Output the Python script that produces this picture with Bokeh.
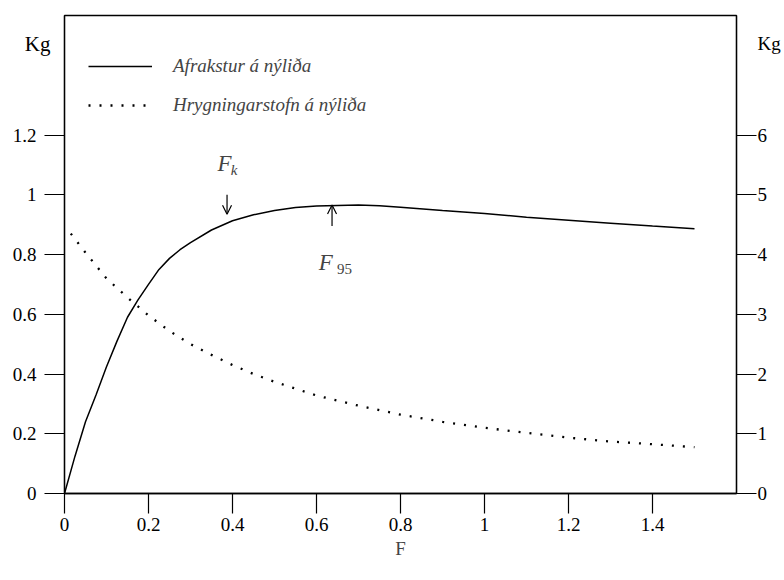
from bokeh.plotting import figure
from bokeh.models import Range1d, LinearAxis, FixedTicker, Label, Arrow, OpenHead, Legend, LegendItem
from bokeh.embed import file_html
from bokeh.resources import INLINE

# --- data ---
f_yield = [0, 0.025, 0.05, 0.075, 0.1, 0.125, 0.15, 0.175, 0.2, 0.225, 0.25, 0.275, 0.3, 0.35,
           0.4, 0.45, 0.5, 0.55, 0.6, 0.65, 0.7, 0.75, 0.8, 0.9, 1.0, 1.1, 1.2, 1.3, 1.4, 1.5]
yield_per_recruit = [0, 0.125, 0.24, 0.33, 0.424, 0.51, 0.59, 0.648, 0.70, 0.75, 0.787, 0.816,
                     0.84, 0.882, 0.913, 0.933, 0.947, 0.957, 0.962, 0.964, 0.966, 0.963,
                     0.958, 0.947, 0.937, 0.925, 0.915, 0.905, 0.895, 0.886]

f_ssb = [0.015, 0.05, 0.1, 0.15, 0.2, 0.25, 0.3, 0.35, 0.4, 0.45, 0.5, 0.6, 0.7, 0.8, 0.9,
         1.0, 1.1, 1.2, 1.3, 1.4, 1.5]
ssb_per_recruit = [4.35, 4.03, 3.6, 3.28, 2.98, 2.72, 2.5, 2.32, 2.15, 2.0, 1.87, 1.64, 1.47,
                   1.32, 1.2, 1.1, 1.015, 0.935, 0.87, 0.825, 0.775]

x_ticks = [0, 0.2, 0.4, 0.6, 0.8, 1.0, 1.2, 1.4]
x_tick_labels = ["0", "0.2", "0.4", "0.6", "0.8", "1", "1.2", "1.4"]
yl_ticks = [0, 0.2, 0.4, 0.6, 0.8, 1.0, 1.2]
yl_tick_labels = ["0", "0.2", "0.4", "0.6", "0.8", "1", "1.2"]
yr_ticks = [0, 1, 2, 3, 4, 5, 6]
yr_tick_labels = ["0", "1", "2", "3", "4", "5", "6"]

legend_labels = ["Afrakstur á nýliða", "Hrygningarstofn á nýliða"]
unit_label = "Kg"
unit_pos_left = 1.506     # height of the unit label, left scale
unit_pos_right = 7.53     # same height, right scale
x_title = "F"
fk = 0.387
f95 = 0.637

SERIF = "'Liberation Serif', serif"

p = figure(frame_width=672, frame_height=478, output_backend="svg", toolbar_location=None,
           x_range=Range1d(0, 1.6), y_range=Range1d(0, 1.6),
           min_border_left=64, min_border_top=15, min_border_right=48, min_border_bottom=67)
p.extra_y_ranges = {"right": Range1d(0, 8)}
p.grid.visible = False
p.outline_line_color = "black"
p.outline_line_width = 1.3
p.background_fill_color = "white"
p.border_fill_color = "white"

def ticks_only(ax, ticks):
    ax.ticker = FixedTicker(ticks=ticks)
    ax.major_label_overrides = {t: "" for t in ticks}
    ax.major_label_standoff = 0
    ax.major_tick_out = 20
    ax.major_tick_in = 0
    ax.minor_tick_out = 0
    ax.minor_tick_in = 0
    ax.axis_line_color = "black"
    ax.axis_line_width = 1.3
    ax.major_tick_line_width = 1.2

def labels_only(ax, ticks, labels, standoff):
    ax.ticker = FixedTicker(ticks=ticks)
    ax.major_label_overrides = {t: l for t, l in zip(ticks, labels)}
    ax.major_tick_out = 0
    ax.major_tick_in = 0
    ax.minor_tick_out = 0
    ax.minor_tick_in = 0
    ax.axis_line_color = None
    ax.major_tick_line_color = None
    ax.minor_tick_line_color = None
    ax.major_label_text_font = SERIF
    ax.major_label_text_font_size = "19px"
    ax.major_label_text_color = "black"
    ax.major_label_standoff = standoff

# bottom axis: ticks and labels
xa = p.xaxis[0]
ticks_only(xa, x_ticks)
xa.major_label_overrides = {t: l for t, l in zip(x_ticks, x_tick_labels)}
xa.major_label_text_font = SERIF
xa.major_label_text_font_size = "19px"
xa.major_label_text_color = "black"
xa.major_label_standoff = 4
xa.axis_label = x_title
xa.axis_label_text_font = SERIF
xa.axis_label_text_font_style = "normal"
xa.axis_label_text_font_size = "19px"
xa.axis_label_standoff = 4

# left: tick marks at the frame, then the unit label, then the numbers
ticks_only(p.yaxis[0], yl_ticks)
left_unit = LinearAxis()
labels_only(left_unit, [unit_pos_left], [unit_label], -6)
left_unit.major_label_text_font_size = "21px"
p.add_layout(left_unit, "left")
left_nums = LinearAxis()
labels_only(left_nums, yl_ticks, yl_tick_labels, -15)
p.add_layout(left_nums, "left")

# right: tick marks at the frame, then numbers and unit label
right_ticks = LinearAxis(y_range_name="right")
ticks_only(right_ticks, yr_ticks)
p.add_layout(right_ticks, "right")
right_nums = LinearAxis(y_range_name="right")
labels_only(right_nums, yr_ticks + [unit_pos_right], yr_tick_labels + [unit_label], 1)
p.add_layout(right_nums, "right")

r1 = p.line(f_yield, yield_per_recruit, line_color="black", line_width=1.5)
r2 = p.line(f_ssb, ssb_per_recruit, y_range_name="right", line_color="black",
            line_width=2.3, line_dash="2 9")

legend = Legend(items=[LegendItem(label=legend_labels[0], renderers=[r1]),
                       LegendItem(label=legend_labels[1], renderers=[r2])],
                location=(24, 377), glyph_width=64, glyph_height=20, label_height=20,
                spacing=17, label_standoff=21, padding=0, margin=0,
                border_line_alpha=0, background_fill_alpha=0,
                label_text_font=SERIF, label_text_font_style="italic",
                label_text_font_size="19px")
p.add_layout(legend)

# F_k annotation
p.add_layout(Label(x=fk - 0.006, y=1.105, text="F", text_font=SERIF, text_font_style="italic",
                   text_font_size="23px", text_align="center", text_baseline="middle"))
p.add_layout(Label(x=fk + 0.009, y=1.082, text="k", text_font=SERIF, text_font_style="italic",
                   text_font_size="15px", text_align="left", text_baseline="middle"))
p.add_layout(Arrow(end=OpenHead(size=9, line_width=1.2), x_start=fk, y_start=1.0,
                   x_end=fk, y_end=0.935, line_width=1.2))

# F_95 annotation
p.add_layout(Label(x=f95 - 0.015, y=0.774, text="F", text_font=SERIF, text_font_style="italic",
                   text_font_size="23px", text_align="center", text_baseline="middle"))
p.add_layout(Label(x=f95 + 0.012, y=0.752, text="95", text_font=SERIF,
                   text_font_size="15px", text_align="left", text_baseline="middle"))
p.add_layout(Arrow(end=OpenHead(size=9, line_width=1.2), x_start=f95, y_start=0.895,
                   x_end=f95, y_end=0.966, line_width=1.2))

open("out.html", "w").write(file_html(p, INLINE))
